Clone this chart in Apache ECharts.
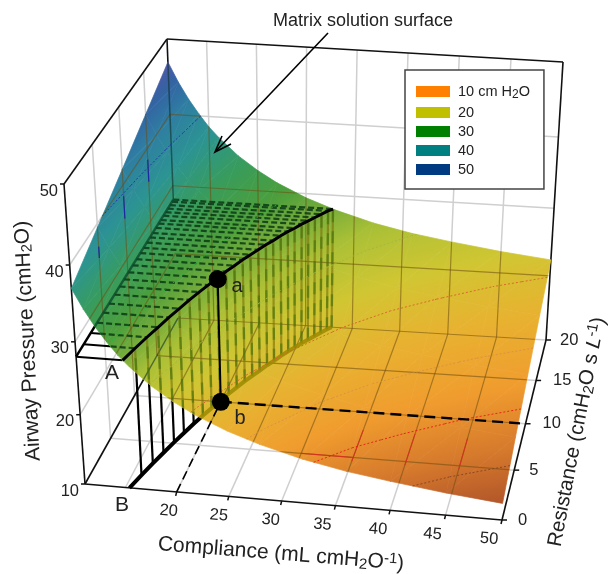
<!DOCTYPE html>
<html>
<head>
<meta charset="utf-8">
<style>
html, body { margin: 0; padding: 0; background: #fff; }
#chart { width: 613px; height: 574px; }
</style>
<script src="https://cdn.jsdelivr.net/npm/echarts@6/dist/echarts.min.js"></script>
</head>
<body>
<div id="chart"></div>
<script>
// surface values, airway pressure per compliance column
var complianceCols = [11, 12, 13, 14, 15, 16, 18, 20, 22, 25, 28, 32, 36, 40, 45, 50];
var resistanceRows = [0, 5, 10, 15, 20];
var pressureR0 = [37.0, 34.4, 32.2, 30.3, 28.6, 27.2, 24.8, 22.9, 21.3, 19.4, 17.9, 16.3, 15.1, 14.2, 13.2, 12.4];
var pressureR5 = [39.5, 36.9, 34.7, 32.8, 31.1, 29.7, 27.3, 25.4, 23.8, 21.9, 20.4, 18.8, 17.6, 16.7, 15.7, 14.9];
var pressureR10 = [42.0, 39.4, 37.2, 35.3, 33.6, 32.2, 29.8, 27.9, 26.3, 24.4, 22.9, 21.3, 20.1, 19.2, 18.2, 17.4];
var pressureR15 = [44.5, 41.9, 39.7, 37.8, 36.1, 34.7, 32.3, 30.4, 28.8, 26.9, 25.4, 23.8, 22.6, 21.7, 20.7, 19.9];
var pressureR20 = [47.0, 44.4, 42.2, 40.3, 38.6, 37.2, 34.8, 32.9, 31.3, 29.4, 27.9, 26.3, 25.1, 24.2, 23.2, 22.4];
var pressureRows = [pressureR0, pressureR5, pressureR10, pressureR15, pressureR20];

// the 28 cmH2O iso-pressure curve (A-a, and B on the floor)
var isoPressure = 28;
var isoCompliance = [15.4, 15.9, 16.4, 16.9, 17.4, 17.9, 18.4, 18.9, 19.4, 19.9, 20.4, 20.9, 21.4, 21.9, 22.4, 22.9, 23.4, 23.9, 24.4, 24.9, 25.4, 25.9, 26.4, 26.9, 27.4, 27.8];
var isoResistance = [0, 1.4, 2.7, 3.9, 5.1, 6.2, 7.3, 8.3, 9.2, 10.1, 11, 11.8, 12.6, 13.3, 14, 14.7, 15.3, 16, 16.6, 17.1, 17.7, 18.2, 18.7, 19.2, 19.7, 20];

var pointA = [20, 10, 28];
var pointB = [20, 10, 10];

var complianceTicks = [20, 25, 30, 35, 40, 45, 50];
var complianceGrid = [15, 20, 25, 30, 35, 40, 45];
var resistanceTicks = [0, 5, 10, 15, 20];
var resistanceGrid = [5, 10, 15];
var pressureTicks = [10, 20, 30, 40, 50];
var pressureGrid = [20, 30, 40];

var legendNames = ['10 cm H2O', '20', '30', '40', '50'];
var legendColors = ['#ff8000', '#c0c000', '#008000', '#008080', '#003a80'];

var contourLevels = [13.8, 16, 18.5, 21.6, 25, 30, 40];
var contourColors = ['#8a4020', '#e81c14', '#d89040', '#d8602c', '#a0b840', '#2cb040', '#2030a8'];

// short coloured grid pieces showing on the surface: c1,r1,p1, c2,r2,p2
var redPieces = [[35, 4.6, 10, 35, 8, 10], [40, 4.6, 10, 40, 8, 10], [45, 4.6, 10, 45, 8, 10], [30, 5, 10, 35, 5, 10]];
var bluePieces = [[11, 15, 35.5, 11, 15, 38.5], [11, 10, 35.5, 11, 10, 38.5], [11, 5, 35.5, 11, 5, 37]];

// pressure -> colour, [pressure, r, g, b]
var colorStops = [
    [10, 168, 76, 40], [12.4, 178, 86, 42], [14.5, 214, 122, 44], [17, 240, 156, 46], [20, 232, 178, 48],
    [23, 208, 198, 50], [26, 170, 192, 54], [28, 122, 174, 58], [30.5, 76, 158, 60], [34, 56, 156, 92],
    [38, 44, 148, 146], [42, 46, 126, 162], [45, 52, 98, 162], [48, 92, 86, 170], [50, 100, 80, 170]
];

var FONT = '"Liberation Sans", Arial, sans-serif';

// box corners in pixels, order: (Cmin,R0) (Cmax,R0) (Cmax,Rmax) (Cmin,Rmax)
var floorQuad = [[85, 484], [502, 520], [546, 340], [178, 318]];
var ceilQuad = [[64, 184], [512, 215], [563, 62], [167, 39]];
var C_MIN = 11, C_MAX = 50, R_MAX = 20, P_MIN = 10, P_MAX = 50;

function squareToQuad(q) {
    var dx1 = q[1][0] - q[2][0], dx2 = q[3][0] - q[2][0], sx = q[0][0] - q[1][0] + q[2][0] - q[3][0];
    var dy1 = q[1][1] - q[2][1], dy2 = q[3][1] - q[2][1], sy = q[0][1] - q[1][1] + q[2][1] - q[3][1];
    var den = dx1 * dy2 - dx2 * dy1;
    var g = (sx * dy2 - dx2 * sy) / den;
    var h = (dx1 * sy - sx * dy1) / den;
    return function (u, v) {
        var w = g * u + h * v + 1;
        return [
            ((q[1][0] - q[0][0] + g * q[1][0]) * u + (q[3][0] - q[0][0] + h * q[3][0]) * v + q[0][0]) / w,
            ((q[1][1] - q[0][1] + g * q[1][1]) * u + (q[3][1] - q[0][1] + h * q[3][1]) * v + q[0][1]) / w
        ];
    };
}
var floorMap = squareToQuad(floorQuad);
var ceilMap = squareToQuad(ceilQuad);

function project(c, r, p) {
    var u = (c - C_MIN) / (C_MAX - C_MIN), v = r / R_MAX;
    var t = (p - P_MIN) / (P_MAX - P_MIN);
    var s = t / (t + 1.11 * (1 - t));
    var a = floorMap(u, v), b = ceilMap(u, v);
    return [a[0] + (b[0] - a[0]) * s, a[1] + (b[1] - a[1]) * s];
}

function colorAt(p) {
    var i = 0;
    while (i < colorStops.length - 2 && p > colorStops[i + 1][0]) i++;
    var a = colorStops[i], b = colorStops[i + 1];
    var t = Math.max(0, Math.min(1, (p - a[0]) / (b[0] - a[0])));
    return 'rgb(' + Math.round(a[1] + (b[1] - a[1]) * t) + ',' + Math.round(a[2] + (b[2] - a[2]) * t) + ',' + Math.round(a[3] + (b[3] - a[3]) * t) + ')';
}

function scrPoint(api, c, r, p) {
    return api.coord(project(c, r, p));
}

// outline of the surface, used to keep see-through marks on it
function surfaceOutline(api) {
    var pts = [];
    var last = complianceCols.length - 1;
    complianceCols.forEach(function (c, i) { pts.push(scrPoint(api, c, 0, pressureR0[i])); });
    resistanceRows.forEach(function (r, j) { pts.push(scrPoint(api, C_MAX, r, pressureRows[j][last])); });
    for (var i = last; i >= 0; i--) pts.push(scrPoint(api, complianceCols[i], R_MAX, pressureR20[i]));
    for (var j = resistanceRows.length - 1; j >= 0; j--) pts.push(scrPoint(api, C_MIN, resistanceRows[j], pressureRows[j][0]));
    return pts;
}

function segmentSeries(segs, style, z, clipped) {
    return {
        type: 'custom', coordinateSystem: 'cartesian2d', silent: true, clip: false, z: z, data: segs,
        renderItem: function (params, api) {
            var a = scrPoint(api, api.value(0), api.value(1), api.value(2));
            var b = scrPoint(api, api.value(3), api.value(4), api.value(5));
            var el = { type: 'line', shape: { x1: a[0], y1: a[1], x2: b[0], y2: b[1] }, style: style };
            if (clipped) el.clipPath = { type: 'polygon', shape: { points: surfaceOutline(api) } };
            return el;
        }
    };
}

function polylineSeries(pts, style, z, clipped) {
    return {
        type: 'custom', coordinateSystem: 'cartesian2d', silent: true, clip: false, z: z, data: pts,
        renderItem: function (params, api) {
            if (params.dataIndex !== 0) return null;
            var el = {
                type: 'polyline',
                shape: { points: pts.map(function (d) { return scrPoint(api, d[0], d[1], d[2]); }) },
                style: style
            };
            if (clipped) el.clipPath = { type: 'polygon', shape: { points: surfaceOutline(api) } };
            return el;
        }
    };
}

// grid lines of the walls and floor
var gridSegs = [];
complianceGrid.forEach(function (c) {
    gridSegs.push([c, R_MAX, P_MIN, c, R_MAX, P_MAX]);
    gridSegs.push([c, 0, P_MIN, c, R_MAX, P_MIN]);
});
resistanceGrid.forEach(function (r) {
    gridSegs.push([C_MIN, r, P_MIN, C_MIN, r, P_MAX]);
    gridSegs.push([C_MIN, r, P_MIN, C_MAX, r, P_MIN]);
});
pressureGrid.forEach(function (p) {
    gridSegs.push([C_MIN, R_MAX, p, C_MAX, R_MAX, p]);
    gridSegs.push([C_MIN, 0, p, C_MIN, R_MAX, p]);
});
gridSegs.push([C_MIN, R_MAX, P_MIN, C_MAX, R_MAX, P_MIN]);

var boxSegs = [
    [C_MIN, 0, P_MAX, C_MIN, R_MAX, P_MAX],
    [C_MIN, R_MAX, P_MAX, C_MAX, R_MAX, P_MAX],
    [C_MAX, R_MAX, P_MAX, C_MAX, R_MAX, P_MIN],
    [C_MAX, R_MAX, P_MIN, C_MAX, 0, P_MIN],
    [C_MAX, 0, P_MIN, C_MIN, 0, P_MIN],
    [C_MIN, 0, P_MIN, C_MIN, 0, P_MAX],
    [C_MIN, 0, P_MIN, C_MIN, R_MAX, P_MIN],
    [C_MIN, R_MAX, P_MAX, C_MIN, R_MAX, isoPressure]
];

// rows on the horizontal plane and bars up from the floor
var planeRows = [];
var planeBars = [];
var floorLine = [];
var isoLine = [];
isoCompliance.forEach(function (c, i) {
    var r = isoResistance[i];
    planeRows.push([C_MIN, r, isoPressure, c, r, isoPressure]);
    if (i > 0) planeBars.push([c, r, P_MIN, c, r, isoPressure]);
    floorLine.push([c, r, P_MIN]);
    isoLine.push([c, r, isoPressure]);
});
var planeEdge = [[C_MIN, 0, isoPressure, C_MIN, R_MAX, isoPressure]];

// surface triangles from the value table
var triangles = [];
resistanceRows.forEach(function (r, j) {
    if (j === resistanceRows.length - 1) return;
    var r2 = resistanceRows[j + 1];
    complianceCols.forEach(function (c, i) {
        if (i === complianceCols.length - 1) return;
        var c2 = complianceCols[i + 1];
        var p00 = pressureRows[j][i], p10 = pressureRows[j][i + 1], p01 = pressureRows[j + 1][i], p11 = pressureRows[j + 1][i + 1];
        triangles.push([c, r, p00, c2, r, p10, c2, r2, p11]);
        triangles.push([c, r, p00, c2, r2, p11, c, r2, p01]);
    });
});

function contourSegments(level) {
    var segs = [];
    triangles.forEach(function (t) {
        var hits = [];
        for (var k = 0; k < 3; k++) {
            var a = k * 3, b = ((k + 1) % 3) * 3;
            var pa = t[a + 2], pb = t[b + 2];
            if ((pa - level) * (pb - level) < 0) {
                var f = (level - pa) / (pb - pa);
                hits.push([t[a] + (t[b] - t[a]) * f, t[a + 1] + (t[b + 1] - t[a + 1]) * f, level]);
            }
        }
        if (hits.length === 2) segs.push(hits[0].concat(hits[1]));
    });
    return segs;
}

function triangleGradient(pts, vals) {
    var x1 = pts[1][0] - pts[0][0], y1 = pts[1][1] - pts[0][1];
    var x2 = pts[2][0] - pts[0][0], y2 = pts[2][1] - pts[0][1];
    var dz1 = vals[1] - vals[0], dz2 = vals[2] - vals[0];
    var det = x1 * y2 - x2 * y1;
    if (Math.abs(det) < 1e-6) return colorAt(vals[0]);
    var gx = (dz1 * y2 - dz2 * y1) / det;
    var gy = (x1 * dz2 - x2 * dz1) / det;
    var g2 = gx * gx + gy * gy;
    var zMin = Math.min(vals[0], vals[1], vals[2]), zMax = Math.max(vals[0], vals[1], vals[2]);
    if (g2 < 1e-9 || zMax - zMin < 1e-6) return colorAt(vals[0]);
    var start = pts[vals.indexOf(zMin)];
    var k = (zMax - zMin) / g2;
    var stops = [];
    for (var i = 0; i <= 6; i++) {
        stops.push({ offset: i / 6, color: colorAt(zMin + (zMax - zMin) * i / 6) });
    }
    return {
        type: 'linear', global: true,
        x: start[0], y: start[1], x2: start[0] + gx * k, y2: start[1] + gy * k,
        colorStops: stops
    };
}

var surfaceSeries = {
    type: 'custom', coordinateSystem: 'cartesian2d', silent: true, clip: false, z: 5, data: triangles,
    renderItem: function (params, api) {
        var t = triangles[params.dataIndex];
        var pts = [scrPoint(api, t[0], t[1], t[2]), scrPoint(api, t[3], t[4], t[5]), scrPoint(api, t[6], t[7], t[8])];
        var fill = triangleGradient(pts, [t[2], t[5], t[8]]);
        return { type: 'polygon', shape: { points: pts }, style: { fill: fill, stroke: fill, lineWidth: 0.7 } };
    }
};

// text items, anchored either to chart values or to the page
var sub = { fontFamily: FONT, fontSize: 15, padding: [8, 0, 0, 0], fill: '#222' };
var sup = { fontFamily: FONT, fontSize: 15, padding: [0, 0, 8, 0], fill: '#222' };
var ital = { fontFamily: FONT, fontSize: 20, fontStyle: 'italic', fill: '#222' };
var complianceDx = [-8, -10, -11, -13, -12, -13, -13];
var resistanceDx = [16, 15, 17, 17, 14];
var textItems = [];
pressureTicks.forEach(function (p) {
    textItems.push({ at: [C_MIN, 0, p], dx: -6, dy: 7, text: String(p), align: 'right', size: 16.5 });
});
complianceTicks.forEach(function (c, i) {
    textItems.push({ at: [c, 0, P_MIN], dx: complianceDx[i], dy: 19, text: String(c), size: 16.5, rotation: -0.08 });
});
resistanceTicks.forEach(function (r, i) {
    textItems.push({ at: [C_MAX, r, P_MIN], dx: resistanceDx[i], dy: 0, text: String(r), align: 'left', size: 16.5 });
});
textItems.push({ x: 363, y: 21, text: 'Matrix solution surface', size: 18 });
textItems.push({ x: 28, y: 341, text: 'Airway Pressure (cmH{sub|2}O)', size: 21, rotation: 1.62 });
textItems.push({ x: 281, y: 554, text: 'Compliance (mL cmH{sub|2}O{sup|-1})', size: 21, rotation: -0.08 });
textItems.push({ x: 577, y: 432, text: 'Resistance (cmH{sub|2}O s {ital|L}{sup|-1})', size: 20.5, rotation: 1.38 });
textItems.push({ x: 112, y: 373, text: 'A', size: 21 });
textItems.push({ x: 122, y: 505, text: 'B', size: 21 });
textItems.push({ x: 237, y: 286, text: 'a', size: 20 });
textItems.push({ x: 240, y: 418, text: 'b', size: 20 });

var textSeries = {
    type: 'custom', coordinateSystem: 'cartesian2d', silent: true, clip: false, z: 20,
    data: textItems.map(function (d, i) { return [i]; }),
    renderItem: function (params, api) {
        var d = textItems[params.dataIndex];
        var xy = d.at ? scrPoint(api, d.at[0], d.at[1], d.at[2]) : api.coord([d.x, d.y]);
        return {
            type: 'text',
            x: xy[0] + (d.dx || 0), y: xy[1] + (d.dy || 0), rotation: d.rotation || 0,
            style: {
                text: d.text, fill: '#222', font: d.size + 'px ' + FONT,
                align: d.align || 'center', verticalAlign: 'middle',
                rich: { sub: sub, sup: sup, ital: ital }
            }
        };
    }
};

// tick nibs
var tickSeries = {
    type: 'custom', coordinateSystem: 'cartesian2d', silent: true, clip: false, z: 3,
    data: [].concat(
        pressureTicks.map(function (p) { return [C_MIN, 0, p, -4, 0]; }),
        complianceTicks.map(function (c) { return [c, 0, P_MIN, -1, 4]; }),
        resistanceTicks.map(function (r) { return [C_MAX, r, P_MIN, 5, 0]; })
    ),
    renderItem: function (params, api) {
        var a = scrPoint(api, api.value(0), api.value(1), api.value(2));
        return {
            type: 'line',
            shape: { x1: a[0], y1: a[1], x2: a[0] + api.value(3), y2: a[1] + api.value(4) },
            style: { stroke: '#111', lineWidth: 1.5 }
        };
    }
};

var dotSeries = {
    type: 'custom', coordinateSystem: 'cartesian2d', silent: true, clip: false, z: 12,
    data: [pointA, pointB],
    renderItem: function (params, api) {
        var a = scrPoint(api, api.value(0), api.value(1), api.value(2));
        return { type: 'circle', shape: { cx: a[0], cy: a[1], r: 9 }, style: { fill: '#000' } };
    }
};

var series = [
    segmentSeries(gridSegs, { stroke: '#cfcfcf', lineWidth: 1.5 }, 1),
    segmentSeries(boxSegs, { stroke: '#111', lineWidth: 1.6 }, 2),
    tickSeries,
    segmentSeries(planeRows, { stroke: '#000', lineWidth: 2 }, 3),
    segmentSeries(planeEdge, { stroke: '#000', lineWidth: 2.5 }, 3),
    segmentSeries(planeBars, { stroke: '#000', lineWidth: 2.2 }, 3),
    polylineSeries(floorLine, { stroke: '#000', lineWidth: 4, fill: 'none' }, 3),
    surfaceSeries,
    // what shows through the surface, kept inside its outline
    segmentSeries(gridSegs, { stroke: '#6e4c10', lineWidth: 1.2, opacity: 0.55 }, 6, true),
    segmentSeries(boxSegs.slice(6), { stroke: '#10302a', lineWidth: 1.5, opacity: 0.6 }, 6, true),
    segmentSeries(planeRows, { stroke: '#0a3a14', lineWidth: 2.2, lineDash: [6, 3], opacity: 0.85 }, 6, true),
    segmentSeries(planeEdge, { stroke: '#0a4a2a', lineWidth: 2.5, opacity: 0.8 }, 6, true),
    segmentSeries(planeBars, { stroke: '#7a7008', lineWidth: 2.2, opacity: 0.6 }, 6, true),
    segmentSeries(planeBars, { stroke: '#2a6a08', lineWidth: 2.4, lineDash: [12, 9], opacity: 0.45 }, 6, true),
    polylineSeries(floorLine, { stroke: '#9a8a00', lineWidth: 4, opacity: 0.85, fill: 'none' }, 6, true),
    segmentSeries(redPieces, { stroke: '#d83020', lineWidth: 1 }, 7, true),
    segmentSeries(bluePieces, { stroke: '#1a2aa0', lineWidth: 1.2 }, 7, true)
];
contourLevels.forEach(function (level, i) {
    series.push(segmentSeries(contourSegments(level), { stroke: contourColors[i], lineWidth: 1, lineDash: [2, 2], opacity: 0.9 }, 7));
});
series.push(polylineSeries(isoLine, { stroke: '#000', lineWidth: 3, fill: 'none' }, 10));
series.push(segmentSeries([pointA.concat(pointB)], { stroke: '#000', lineWidth: 2 }, 10));
series.push(segmentSeries([[pointB[0], 0, P_MIN].concat(pointB)], { stroke: '#000', lineWidth: 1.6, lineDash: [9, 5] }, 10));
series.push(segmentSeries([pointB.concat([C_MAX, pointB[1], P_MIN])], { stroke: '#000', lineWidth: 2.4, lineDash: [11, 6] }, 10));
series.push(dotSeries);
series.push(textSeries);
legendNames.forEach(function (name) {
    series.push({ type: 'custom', name: name, coordinateSystem: 'cartesian2d', data: [], renderItem: function () { return null; } });
});

var chart = echarts.init(document.getElementById('chart'), null, { renderer: 'canvas' });
chart.setOption({
    animation: false,
    backgroundColor: '#fff',
    grid: { left: 0, right: 0, top: 0, bottom: 0 },
    xAxis: { type: 'value', min: 0, max: 613, show: false },
    yAxis: { type: 'value', min: 0, max: 574, inverse: true, show: false },
    legend: {
        left: 405, top: 70, orient: 'vertical', z: 30,
        padding: [14, 14, 12, 11], itemWidth: 34, itemHeight: 11, itemGap: 4,
        backgroundColor: '#fff', borderColor: '#444', borderWidth: 1.5,
        selectedMode: false, icon: 'rect',
        data: legendNames.map(function (name, i) {
            return { name: name, icon: 'rect', itemStyle: { color: legendColors[i] } };
        }),
        formatter: function (name) {
            return name === legendNames[0] ? '10 cm H{s|2}O' : name;
        },
        textStyle: {
            fontFamily: FONT, fontSize: 14.5, color: '#222', padding: [0, 0, 0, 3],
            rich: { s: { fontFamily: FONT, fontSize: 12, color: '#222', padding: [7, 0, 0, 0] } }
        }
    },
    graphic: [
        { type: 'line', shape: { x1: 328, y1: 33, x2: 216, y2: 151 }, style: { stroke: '#000', lineWidth: 1.6 }, z: 15 },
        { type: 'polyline', shape: { points: [[222, 136], [215, 152], [231, 144]] }, style: { stroke: '#000', lineWidth: 1.6, fill: 'none' }, z: 15 }
    ],
    series: series
});
</script>
</body>
</html>
